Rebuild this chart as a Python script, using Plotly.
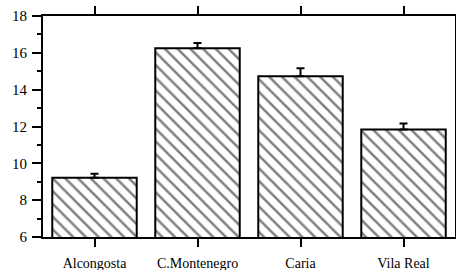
import plotly.graph_objects as go

categories = ["Alcongosta", "C.Montenegro", "Caria", "Vila Real"]
values = [9.22, 16.25, 14.73, 11.84]
errors = [0.22, 0.28, 0.43, 0.32]
y_ticks = [6, 8, 10, 12, 14, 16, 18]

fig = go.Figure()
fig.add_trace(go.Bar(
    x=categories,
    y=values,
    marker=dict(
        color="white",
        line=dict(color="black", width=2),
        pattern=dict(shape="\\", fgcolor="black", bgcolor="white", size=9, solidity=0.28),
    ),
    error_y=dict(type="data", symmetric=False, array=errors,
                 arrayminus=[0] * len(errors), color="black", thickness=2, width=4),
    hoverinfo="skip",
))

font = dict(family="Liberation Serif, Times New Roman, serif", color="black")
fig.update_layout(
    width=456, height=270,
    margin=dict(l=43, r=1, t=16, b=33, autoexpand=False),
    paper_bgcolor="white", plot_bgcolor="white",
    showlegend=False,
    bargap=0.18,
    font=font,
    xaxis=dict(
        range=[-0.5, 3.5], showgrid=False, zeroline=False, automargin=False,
        showline=True, linecolor="black", linewidth=2, mirror="ticks",
        ticks="outside", ticklen=8, tickwidth=1.5, tickcolor="black",
        tickfont=dict(size=14, **font), ticklabelstandoff=4,
    ),
    yaxis=dict(
        range=[6, 18], tickvals=y_ticks, showgrid=False, zeroline=False, automargin=False,
        showline=True, linecolor="black", linewidth=2, mirror=True,
        ticks="outside", ticklen=9, tickwidth=2, tickcolor="black",
        tickfont=dict(size=15, **font), ticklabelstandoff=2,
        minor=dict(dtick=1, ticks="outside", ticklen=4, tickwidth=2, tickcolor="black"),
    ),
)

fig.write_html("out.html", config={"displayModeBar": False},
               post_script="document.body.style.margin='0';")
